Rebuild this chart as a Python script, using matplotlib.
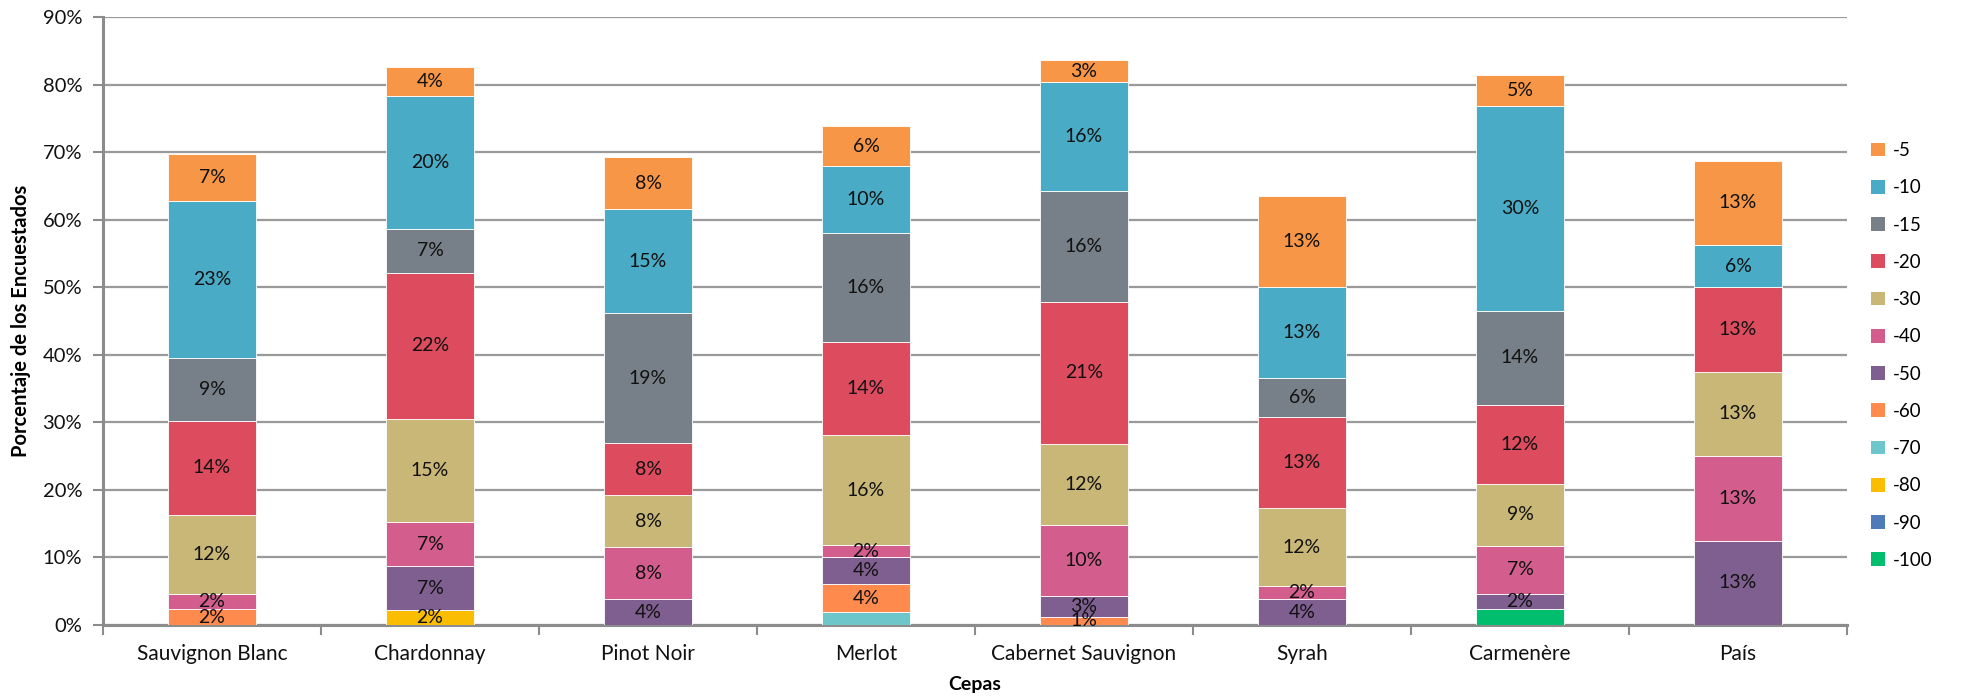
import matplotlib
matplotlib.use("Agg")
import matplotlib.pyplot as plt
from matplotlib.patches import Patch
import numpy as np

plt.rcParams['font.family'] = ['Lato', 'DejaVu Sans']

categories = ["Sauvignon Blanc", "Chardonnay", "Pinot Noir", "Merlot",
              "Cabernet Sauvignon", "Syrah", "Carmenère", "País"]

# series, stacked bottom (-100) to top (-5), values in %
s_m100 = [0, 0, 0, 0, 0, 0, 2.33, 0]
s_m90 = [0, 0, 0, 0, 0, 0, 0, 0]
s_m80 = [0, 2.17, 0, 0, 0, 0, 0, 0]
s_m70 = [0, 0, 0, 1.88, 0, 0, 0, 0]
s_m60 = [2.33, 0, 0, 4.16, 1.24, 0, 0, 0]
s_m50 = [0, 6.52, 3.85, 3.96, 3.12, 3.85, 2.33, 12.5]
s_m40 = [2.33, 6.52, 7.69, 1.88, 10.4, 1.92, 6.98, 12.5]
s_m30 = [11.63, 15.22, 7.69, 16.19, 12.03, 11.54, 9.30, 12.5]
s_m20 = [13.95, 21.74, 7.69, 13.76, 21.09, 13.46, 11.63, 12.5]
s_m15 = [9.30, 6.52, 19.23, 16.13, 16.32, 5.77, 13.95, 0]
s_m10 = [23.26, 19.57, 15.38, 9.96, 16.20, 13.46, 30.23, 6.25]
s_m5 = [6.98, 4.35, 7.69, 5.94, 3.19, 13.46, 4.65, 12.5]

series_names = ["-100", "-90", "-80", "-70", "-60", "-50", "-40", "-30", "-20", "-15", "-10", "-5"]
series_vals = [s_m100, s_m90, s_m80, s_m70, s_m60, s_m50, s_m40, s_m30, s_m20, s_m15, s_m10, s_m5]
colors = ["#00BE6E", "#4F7BB8", "#FBBD00", "#6CC6CA", "#FF8A4E", "#7F5F8F",
          "#D35E8D", "#C8B777", "#DC4C5E", "#778088", "#4AABC6", "#F79646"]
unlabeled = {"-100", "-90", "-70"}

fig = plt.figure(figsize=(19.62, 6.96), dpi=100)
ax = fig.add_axes([0.0525, 0.1020, 0.8889, 0.8736])

x = np.arange(len(categories))
bottom = np.zeros(len(categories))
handles = []
for name, vals, col in zip(series_names, series_vals, colors):
    v = np.array(vals, dtype=float)
    ax.bar(x, v, width=0.4, bottom=bottom, color=col, edgecolor="#FFFFFF",
           linewidth=0.6, zorder=3)
    if name not in unlabeled:
        for xi, vi, bi in zip(x, v, bottom):
            if vi > 0:
                ax.text(xi, bi + vi / 2, f"{int(vi + 0.5)}%", ha="center", va="center",
                        fontsize=14, color="#111111", zorder=4)
    bottom += v
    handles.append(Patch(facecolor=col, label=name))

ax.set_xlim(-0.5, len(categories) - 0.5)
ax.set_ylim(0, 90)
ax.set_yticks(np.arange(0, 91, 10))
ax.set_yticklabels([f"{t}%" for t in range(0, 91, 10)])
ax.yaxis.grid(True, color="#9A9A9A", linewidth=1.6, zorder=0)
ax.set_axisbelow(True)

ax.set_xticks(x)
ax.set_xticklabels(categories)
ax.set_xticks(np.arange(-0.5, len(categories), 1.0), minor=True)
ax.tick_params(axis="x", which="major", length=0, pad=14, labelsize=15, colors="#111111")
ax.tick_params(axis="x", which="minor", length=7, width=1.5, color="#8C8C8C", direction="out")
ax.tick_params(axis="y", length=7, width=1.5, color="#8C8C8C", pad=8, labelsize=14.5,
               labelcolor="#111111")

for sp in ["top", "right"]:
    ax.spines[sp].set_visible(False)
for sp in ["left", "bottom"]:
    ax.spines[sp].set_color("#8C8C8C")
    ax.spines[sp].set_linewidth(2.2)

ax.set_xlabel("Cepas", fontsize=14, fontweight="bold", labelpad=8)
ax.set_ylabel("Porcentaje de los Encuestados", fontsize=14.5, fontweight="bold", labelpad=8)

fig.legend(handles=handles[::-1], loc="upper left", bbox_to_anchor=(0.945, 0.82),
           frameon=False, fontsize=13.5, handlelength=0.75, handleheight=0.75,
           handletextpad=0.4, labelspacing=1.08)

fig.savefig("out.png", dpi=100)
